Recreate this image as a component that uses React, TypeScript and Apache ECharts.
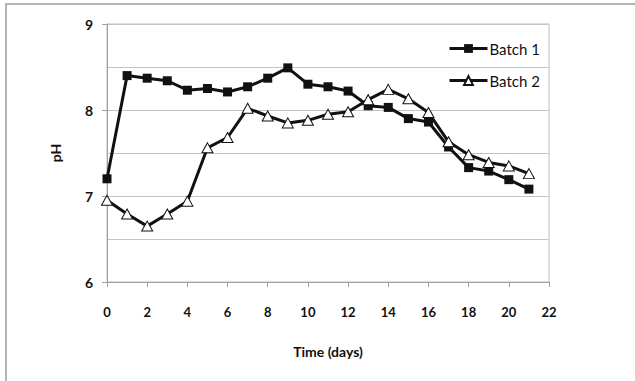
import React, { useEffect, useRef } from "react";
import * as echarts from "echarts";

const days = [0, 1, 2, 3, 4, 5, 6, 7, 8, 9, 10, 11, 12, 13, 14, 15, 16, 17, 18, 19, 20, 21];
const batch1 = [7.2, 8.4, 8.37, 8.34, 8.23, 8.25, 8.21, 8.27, 8.37, 8.49, 8.3, 8.27, 8.22, 8.05, 8.03, 7.9, 7.86, 7.57, 7.33, 7.29, 7.19, 7.08];
const batch2 = [6.95, 6.79, 6.65, 6.79, 6.94, 7.56, 7.68, 8.02, 7.93, 7.85, 7.88, 7.95, 7.98, 8.12, 8.24, 8.13, 7.97, 7.63, 7.48, 7.39, 7.35, 7.26];
const seriesNames = ["Batch 1", "Batch 2"];
const xTitle = "Time (days)";
const yTitle = "pH";

const FONT = "Lato, 'Open Sans', sans-serif";

export default function App() {
  const ref = useRef<HTMLDivElement>(null);
  useEffect(() => {
    if (!ref.current) return;
    const chart = echarts.init(ref.current, undefined, { renderer: "svg" });
    chart.setOption({
      animation: false,
      backgroundColor: "#fff",
      graphic: [
        {
          type: "rect",
          shape: { x: 6, y: 4, width: 700, height: 500 },
          style: { fill: "none", stroke: "#b5b5b5", lineWidth: 2 },
          silent: true,
        },
      ],
      grid: { left: 107, top: 24, right: 86, bottom: 99, show: true, borderColor: "#bdbdbd", borderWidth: 1 },
      legend: {
        orient: "vertical",
        left: 443,
        top: 36,
        itemWidth: 38,
        itemHeight: 11,
        itemGap: 17,
        lineStyle: { width: 3 },
        textStyle: { fontFamily: FONT, fontSize: 15, color: "#111", padding: [0, 0, 0, -3] },
        data: seriesNames,
      },
      xAxis: {
        type: "value",
        min: 0,
        max: 22,
        interval: 2,
        name: xTitle,
        nameLocation: "middle",
        nameGap: 62,
        nameTextStyle: { fontFamily: FONT, fontSize: 14, fontWeight: "bold", color: "#111" },
        axisLine: { show: true, lineStyle: { color: "#a0a0a0", width: 1 } },
        axisTick: { show: true, length: 5, lineStyle: { color: "#a0a0a0" } },
        axisLabel: { fontFamily: FONT, fontSize: 13, fontWeight: "bold", color: "#111", margin: 23 },
        splitLine: { show: false },
      },
      yAxis: {
        type: "value",
        min: 6,
        max: 9,
        interval: 1,
        name: yTitle,
        nameLocation: "middle",
        nameGap: 45,
        nameRotate: 90,
        nameTextStyle: { fontFamily: FONT, fontSize: 14, fontWeight: "bold", color: "#111" },
        axisLine: { show: true, lineStyle: { color: "#a0a0a0", width: 1 } },
        axisTick: { show: true, length: 5, lineStyle: { color: "#a0a0a0" } },
        axisLabel: { fontFamily: FONT, fontSize: 14, fontWeight: "bold", color: "#111", margin: 14 },
        splitLine: { show: true, lineStyle: { color: "#c4c4c4", width: 1 } },
        minorTick: { show: false, splitNumber: 2 },
        minorSplitLine: { show: true, lineStyle: { color: "#c4c4c4", width: 1 } },
      },
      series: [
        {
          name: seriesNames[0],
          type: "line",
          data: days.map((d, i) => [d, batch1[i]]),
          symbol: "rect",
          symbolSize: 9,
          lineStyle: { color: "#111", width: 3 },
          itemStyle: { color: "#111", borderColor: "#111", borderWidth: 0 },
          z: 3,
        },
        {
          name: seriesNames[1],
          type: "line",
          data: days.map((d, i) => [d, batch2[i]]),
          symbol: "triangle",
          symbolSize: [11, 10],
          lineStyle: { color: "#111", width: 3 },
          itemStyle: { color: "#fff", borderColor: "#111", borderWidth: 1 },
          z: 4,
        },
      ],
    });
    return () => chart.dispose();
  }, []);
  return (
    <div
      ref={ref}
      style={{ position: "fixed", left: 0, top: 0, width: 635, height: 381 }}
    />
  );
}
